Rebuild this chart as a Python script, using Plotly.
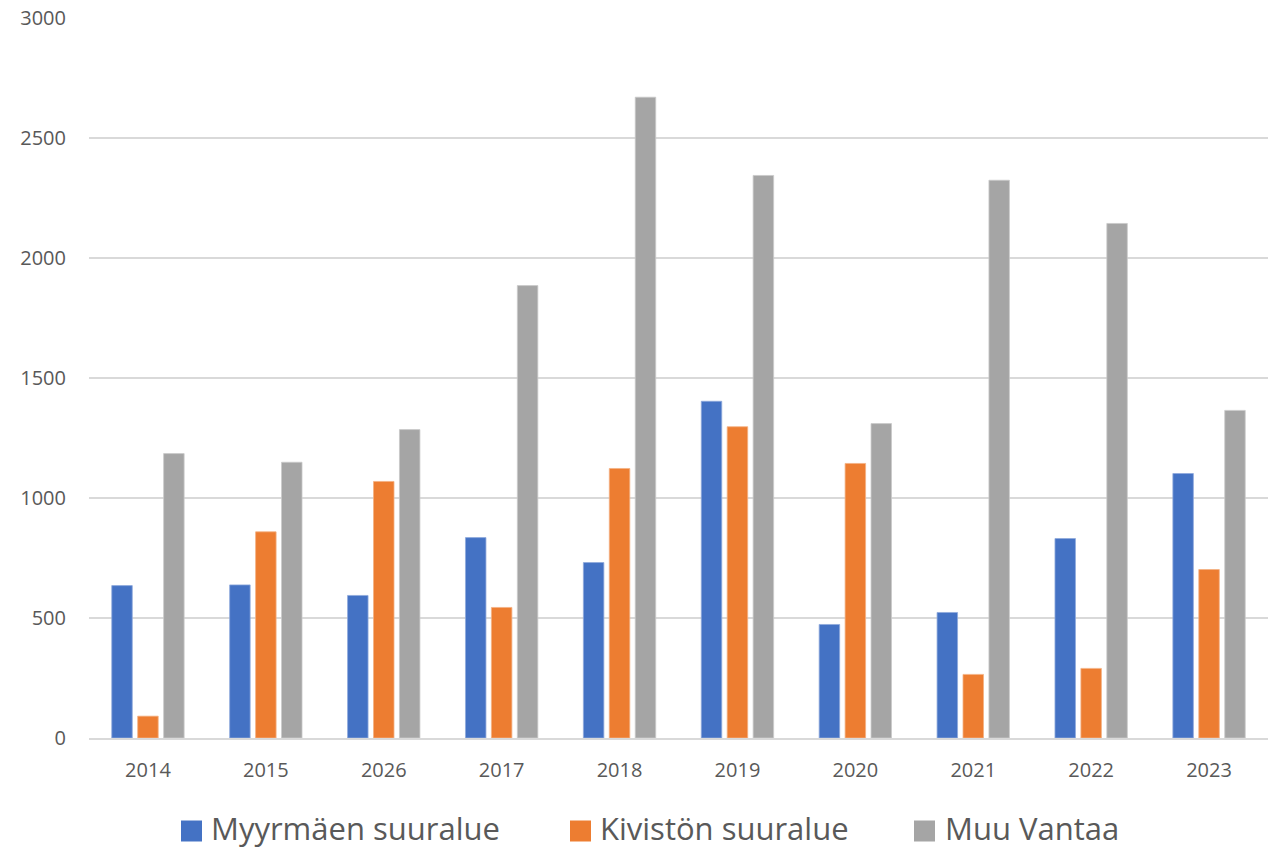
import plotly.graph_objects as go

# Yearly counts per area
years = ["2014", "2015", "2026", "2017", "2018", "2019", "2020", "2021", "2022", "2023"]
myyrmaki = [635, 638, 594, 835, 731, 1403, 473, 523, 831, 1102]
kivisto = [91, 859, 1069, 544, 1123, 1297, 1144, 265, 290, 702]
muu_vantaa = [1185, 1149, 1285, 1885, 2670, 2344, 1310, 2324, 2144, 1365]

series_names = ["Myyrmäen suuralue", "Kivistön suuralue", "Muu Vantaa"]
colors = ["#4472C4", "#ED7D31", "#A5A5A5"]
edge_colors = ["#8FAADC", "#F4B183", "#C9C9C9"]

W, H = 1271, 850
M_L, M_R, M_T, M_B = 89, 3, 18, 112
PW = W - M_L - M_R
PH = H - M_T - M_B

fig = go.Figure()
for name, vals, c, ec in zip(series_names, [myyrmaki, kivisto, muu_vantaa], colors, edge_colors):
    fig.add_trace(go.Bar(
        x=years, y=vals, name=name,
        marker=dict(color=c, line=dict(color=ec, width=0.8)),
        showlegend=False,
    ))

# Legend drawn as squares + labels below the plot
legend_sq_left = [181, 570, 914]
legend_txt_left = [209, 598, 943]
legend_sq_cy = 831
legend_txt_cy = 828
sq = 21
shapes = []
annotations = []
for name, c, sx, tx in zip(series_names, colors, legend_sq_left, legend_txt_left):
    shapes.append(dict(
        type="rect", xref="paper", yref="paper",
        xsizemode="pixel", ysizemode="pixel",
        xanchor=(sx - M_L) / PW, yanchor=(M_T + PH - legend_sq_cy) / PH,
        x0=0, x1=sq, y0=-sq / 2, y1=sq / 2,
        fillcolor=c, line=dict(width=0),
    ))
    annotations.append(dict(
        text=name, xref="paper", yref="paper",
        x=(tx - M_L) / PW, y=(M_T + PH - legend_txt_cy) / PH,
        xanchor="left", yanchor="middle", showarrow=False,
        font=dict(family="Open Sans, sans-serif", size=31, color="#595959"),
    ))

fig.update_layout(
    width=W, height=H,
    margin=dict(l=M_L, r=M_R, t=M_T, b=M_B),
    paper_bgcolor="white", plot_bgcolor="white",
    barmode="group", bargap=0.34, bargroupgap=0.21,
    font=dict(family="Open Sans, sans-serif", size=20, color="#595959"),
    shapes=shapes, annotations=annotations,
    xaxis=dict(
        type="category", showgrid=False,
        showline=True, linecolor="#D9D9D9", linewidth=1.5,
        ticks="", ticklabelstandoff=13,
        tickfont=dict(size=20, color="#595959"),
    ),
    yaxis=dict(
        range=[0, 3000], dtick=500, tick0=0,
        showgrid=True, gridcolor="#D9D9D9", gridwidth=1.5,
        zeroline=False, showline=False, ticks="",
        ticklabelstandoff=22,
        tickfont=dict(size=20, color="#595959"),
    ),
)

fig.write_html("out.html")
